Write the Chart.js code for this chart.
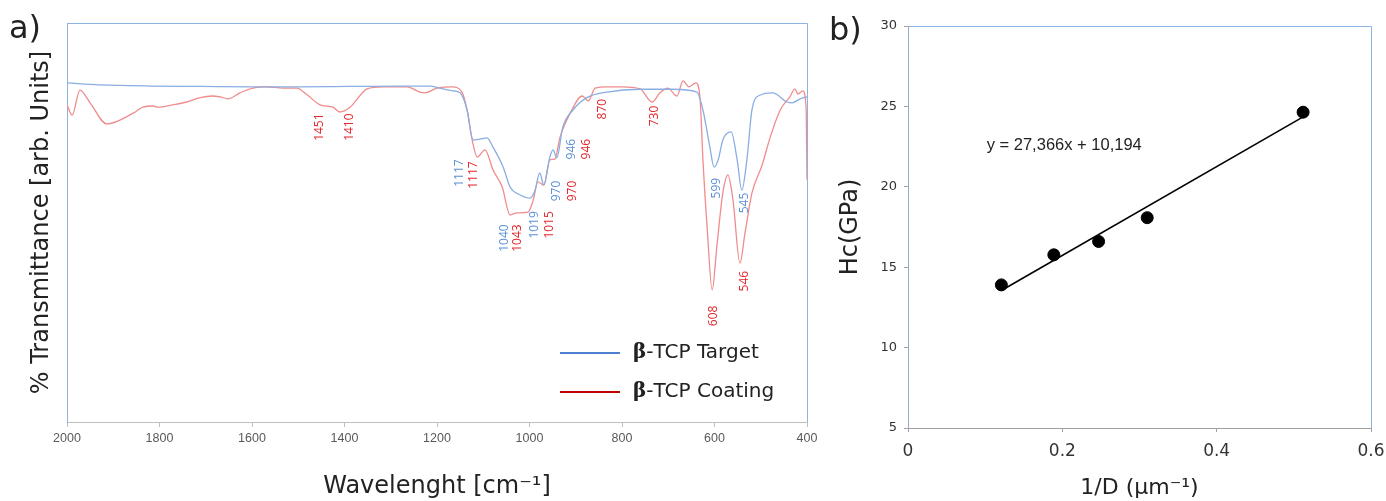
<!DOCTYPE html>
<html>
<head>
<meta charset="utf-8">
<script src="https://cdn.jsdelivr.net/npm/chart.js@4.4.1/dist/chart.umd.min.js"></script>
<style>
  body { margin: 0; background: #fff; width: 1386px; height: 501px; overflow: hidden; position: relative; font-family: "DejaVu Sans", sans-serif; }
  #leftBox { position: absolute; left: 0; top: 0; width: 820px; height: 501px; }
  #rightBox { position: absolute; left: 820px; top: 0; width: 566px; height: 501px; }
  .panel { position: absolute; font-size: 32px; color: #222; line-height: 32px; }
  .legendRow { position: absolute; left: 560px; height: 24px; font-size: 20px; color: #222; white-space: nowrap; }
  .legendRow span.sw { display: inline-block; width: 60px; height: 2px; vertical-align: middle; margin-right: 13px; }
  .legendRow b { font-family: "DejaVu Serif", serif; }
</style>
</head>
<body>
<div id="leftBox"><canvas id="ftir"></canvas></div>
<div id="rightBox"><canvas id="hall"></canvas></div>
<div class="panel" style="left:9px;top:11px;">a)</div>
<div class="panel" style="left:829px;top:13px;">b)</div>
<div class="legendRow" style="top:339px;"><span class="sw" style="background:#4f7fd0"></span><b>β</b>-TCP Target</div>
<div class="legendRow" style="top:378px;"><span class="sw" style="background:#c00000"></span><b>β</b>-TCP Coating</div>
<script>
// FTIR spectra (wavenumber in cm-1, transmittance in arbitrary units)
const targetWn = [2000, 1930, 1820, 1710, 1600, 1500, 1390, 1280, 1215, 1195, 1165, 1150, 1135, 1122, 1107, 1092, 1079, 1057, 1042, 1020, 999, 988, 978, 969, 956, 949, 941, 928, 906, 876, 832, 761, 690, 638, 625, 610, 601, 592, 582, 564, 551, 541, 530, 519, 502, 474, 443, 432, 415, 400];
const targetT = [85.0, 84.5, 84.2, 84.1, 84.0, 84.0, 84.1, 84.2, 84.2, 83.7, 83.0, 82.5, 78.2, 70.7, 70.9, 71.2, 68.9, 63.9, 58.9, 56.9, 56.1, 58.1, 62.4, 59.4, 66.4, 68.2, 66.2, 73.9, 78.2, 81.3, 82.7, 83.4, 83.4, 82.7, 78.2, 68.9, 63.9, 65.7, 70.7, 72.7, 65.7, 58.1, 65.7, 78.2, 81.9, 82.5, 80.2, 80.0, 81.0, 81.5];

const coatingWn = [2000, 1989, 1972, 1950, 1914, 1857, 1836, 1814, 1803, 1771, 1741, 1712, 1686, 1669, 1652, 1626, 1598, 1568, 1533, 1503, 1481, 1453, 1425, 1410, 1388, 1351, 1317, 1265, 1237, 1226, 1200, 1168, 1146, 1135, 1124, 1113, 1096, 1079, 1059, 1042, 1027, 1003, 992, 982, 969, 956, 945, 934, 912, 886, 873, 858, 832, 800, 761, 735, 718, 701, 681, 668, 655, 640, 631, 625, 616, 605, 595, 582, 571, 560, 545, 534, 519, 497, 480, 458, 437, 426, 420, 409, 402, 400];
const coatingT = [79.5, 76.9, 83.2, 80.0, 74.7, 77.4, 78.9, 79.2, 78.9, 79.5, 80.2, 81.3, 81.7, 81.5, 81.0, 82.5, 83.7, 84.0, 83.7, 83.7, 82.0, 79.5, 78.9, 77.7, 78.9, 83.5, 84.0, 84.0, 82.7, 82.5, 83.7, 84.0, 82.7, 78.2, 70.7, 66.4, 68.2, 63.2, 58.9, 51.9, 52.4, 52.6, 55.6, 60.2, 59.4, 65.7, 65.9, 71.4, 77.4, 81.7, 80.5, 83.7, 84.0, 84.0, 83.5, 80.2, 82.5, 83.7, 81.7, 85.5, 84.0, 85.0, 80.7, 65.7, 48.9, 33.1, 43.9, 57.4, 61.9, 55.6, 39.8, 47.4, 57.4, 64.4, 71.2, 78.2, 81.5, 83.5, 82.2, 83.0, 78.9, 60.7];

// peak labels and where they sit (data units)
const peakText = ["1451", "1410", "1117", "1117", "1040", "1043", "1019", "1015", "970", "970", "946", "946", "870", "730", "599", "545", "546", "608"];
const peakSeries = ["c", "c", "t", "c", "t", "c", "t", "c", "t", "c", "t", "c", "c", "c", "t", "t", "c", "c"];
const peakWn = [1453, 1390, 1152, 1120, 1053, 1025, 988, 956, 941, 906, 908, 876, 841, 729, 595, 536, 536, 601];
const peakT = [73.9, 73.9, 62.4, 61.9, 46.1, 46.1, 49.4, 49.4, 57.9, 57.9, 68.4, 68.4, 78.4, 76.7, 58.6, 54.9, 35.3, 26.6];

// Hall-Petch data
const invD = [0.121, 0.189, 0.247, 0.310, 0.512];
const hc = [13.9, 15.77, 16.6, 18.08, 24.64];
const trendX = [0.121, 0.512];
const trendY = [13.55, 24.35];
const fitText = "y = 27,366x + 10,194";

const titleFont = { family: "DejaVu Sans", size: 24 };

const pts = (xs, ys) => xs.map((x, i) => ({ x: x, y: ys[i] }));

const framePlugin = {
  id: "frame",
  afterDraw(chart) {
    const { ctx, chartArea: a } = chart;
    ctx.save();
    ctx.strokeStyle = "#8db3e2";
    ctx.lineWidth = 1;
    ctx.beginPath();
    ctx.moveTo(a.left, a.top + 0.5);
    ctx.lineTo(a.right + 0.5, a.top + 0.5);
    ctx.lineTo(a.right + 0.5, a.bottom);
    ctx.stroke();
    ctx.restore();
  }
};

const peakPlugin = {
  id: "peaks",
  afterDatasetsDraw(chart) {
    const { ctx, scales } = chart;
    ctx.save();
    ctx.font = "12px 'Open Sans', sans-serif";
    ctx.textAlign = "center";
    ctx.textBaseline = "middle";
    for (let i = 0; i < peakText.length; i++) {
      const x = scales.x.getPixelForValue(peakWn[i]);
      const y = scales.y.getPixelForValue(peakT[i]);
      ctx.fillStyle = peakSeries[i] === "t" ? "#5b8fd6" : "#e3262b";
      ctx.save();
      ctx.translate(x, y);
      ctx.rotate(-Math.PI / 2);
      ctx.fillText(peakText[i], 0, 0);
      ctx.restore();
    }
    ctx.restore();
  }
};

new Chart("ftir", {
  type: "line",
  data: {
    datasets: [
      {
        label: "β-TCP Target",
        data: pts(targetWn, targetT),
        borderColor: "#8aaee2",
        borderWidth: 1.3,
        pointRadius: 0,
        cubicInterpolationMode: "monotone",
      },
      {
        label: "β-TCP Coating",
        data: pts(coatingWn, coatingT),
        borderColor: "#f08c8c",
        borderWidth: 1.3,
        pointRadius: 0,
        cubicInterpolationMode: "monotone",
      },
    ],
  },
  options: {
    responsive: true,
    maintainAspectRatio: false,
    animation: false,
    layout: { padding: { top: 23, right: 13, left: 0, bottom: 0 } },
    plugins: { legend: { display: false }, tooltip: { enabled: false } },
    scales: {
      x: {
        type: "linear",
        min: 400,
        max: 2000,
        reverse: true,
        afterFit(s) { s.height = 79; s.paddingLeft = 0; s.paddingRight = 0; },
        border: { color: "#bfbfbf" },
        grid: { drawOnChartArea: false, tickLength: 5, color: "#bfbfbf" },
        ticks: {
          stepSize: 200, padding: 4, color: "#595959",
          font: { family: "Liberation Sans", size: 12.5 },
          callback: (v) => String(v),
        },
        title: { display: true, text: "Wavelenght [cm⁻¹]", color: "#222", font: titleFont, padding: { top: 0, bottom: 0 } },
      },
      y: {
        min: 0,
        max: 100,
        afterFit(s) { s.width = 67; },
        border: { color: "#8db3e2" },
        grid: { display: false },
        ticks: { display: false },
        title: { display: true, text: "% Transmittance [arb. Units]", color: "#222", font: titleFont, padding: { top: 27, bottom: 0 } },
      },
    },
  },
  plugins: [framePlugin, peakPlugin],
});

const fitPlugin = {
  id: "fitText",
  afterDatasetsDraw(chart) {
    const { ctx, scales } = chart;
    ctx.save();
    ctx.font = "16.5px 'Liberation Sans', sans-serif";
    ctx.fillStyle = "#222";
    ctx.textBaseline = "middle";
    ctx.fillText(fitText, scales.x.getPixelForValue(0.102), scales.y.getPixelForValue(22.6));
    ctx.restore();
  }
};

new Chart("hall", {
  type: "scatter",
  data: {
    datasets: [
      {
        label: "Hc",
        data: pts(invD, hc),
        backgroundColor: "#000",
        borderColor: "#000",
        pointRadius: 6,
      },
      {
        type: "line",
        label: "fit",
        data: pts(trendX, trendY),
        borderColor: "#000",
        borderWidth: 1.6,
        pointRadius: 0,
      },
    ],
  },
  options: {
    responsive: true,
    maintainAspectRatio: false,
    animation: false,
    layout: { padding: { top: 26, right: 15, left: 0, bottom: 0 } },
    plugins: { legend: { display: false }, tooltip: { enabled: false } },
    scales: {
      x: {
        type: "linear",
        min: 0,
        max: 0.6,
        afterFit(s) { s.height = 73; s.paddingLeft = 0; s.paddingRight = 0; },
        border: { color: "#a0a0a0" },
        grid: { drawOnChartArea: false, tickLength: 4, color: "#a0a0a0" },
        ticks: { stepSize: 0.2, padding: 9, color: "#333", font: { family: "DejaVu Sans", size: 17 } },
        title: { display: true, text: "1/D (µm⁻¹)", color: "#222", font: { family: "DejaVu Sans", size: 22 }, padding: { top: 0, bottom: 0 } },
      },
      y: {
        min: 5,
        max: 30,
        afterFit(s) { s.width = 88; s.paddingTop = 0; s.paddingBottom = 0; },
        border: { color: "#9aaac8" },
        grid: { drawOnChartArea: false, tickLength: 4, color: "#a0a0a0" },
        ticks: { stepSize: 5, padding: 7, color: "#333", font: { family: "DejaVu Sans", size: 13 } },
        title: { display: true, text: "Hc(GPa)", color: "#222", font: titleFont, padding: { top: 16, bottom: 0 } },
      },
    },
  },
  plugins: [framePlugin, fitPlugin],
});
</script>
</body>
</html>
